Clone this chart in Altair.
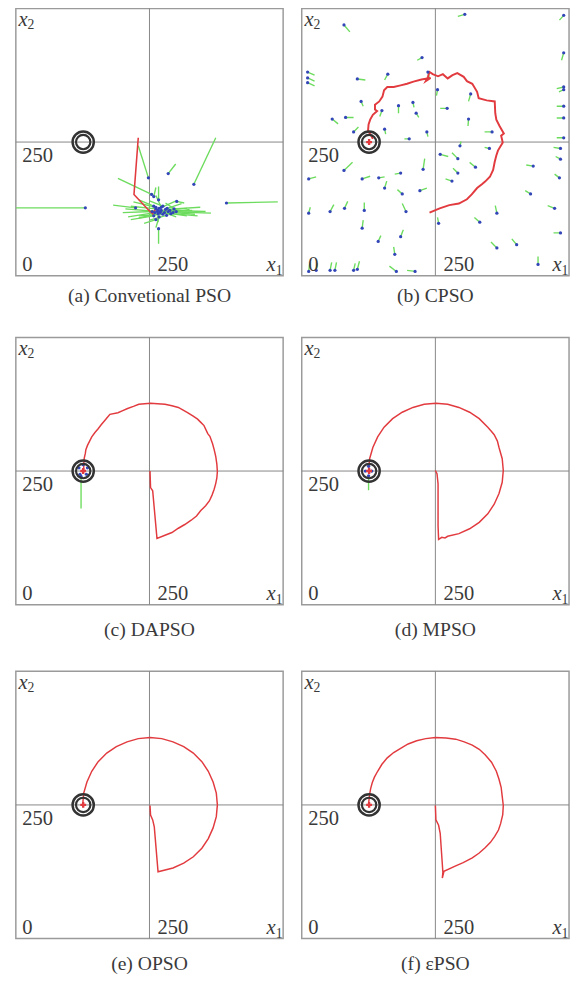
import altair as alt
import pandas as pd

# ---------------- data (units 0..500) ----------------
TARGET_X = [126]
TARGET_Y = [250]

# (a) Conventional PSO
a_path_x = [229, 221, 249, 256, 262, 268, 264]
a_path_y = [258, 152, 122, 116, 126, 119, 124]
a_dot_x = [130, 394, 333, 285, 248, 254, 267, 267, 224, 270, 262, 266, 272, 278, 285, 290, 258, 255, 275, 283,
           300, 296, 268, 262, 301, 258, 265, 270, 280, 262, 275, 288, 260, 268, 282, 294, 258, 272, 266]
a_dot_y = [127, 136, 171, 191, 183, 152, 88, 142, 127, 120, 125, 116, 122, 118, 120, 116, 112, 120, 130, 126,
           120, 125, 110, 105, 139, 148, 120, 118, 124, 128, 115, 122, 118, 126, 113, 118, 130, 128, 122]
a_tail_x = [0, 490, 374, 299, 229, 191, 267, 267, 182, 365, 215, 230, 320, 300, 330, 320, 215, 200, 250, 310,
            325, 280, 262, 240, 315, 262, 205, 340, 345, 220, 230, 355, 210, 300, 250, 335, 230, 262, 266]
a_tail_y = [127, 138, 258, 209, 243, 182, 60, 167, 132, 117, 130, 108, 126, 110, 122, 112, 105, 118, 140, 135,
            124, 136, 90, 98, 136, 165, 125, 112, 128, 138, 112, 120, 110, 140, 104, 115, 142, 150, 100]

# (b) CPSO
b_path_x = [239, 258, 276, 294, 309, 318, 328, 337, 343, 352, 358, 361, 364, 367, 376, 373, 378, 370, 364, 362,
            361, 346, 331, 328, 319, 309, 303, 291, 282, 273, 264, 255, 245, 239, 236, 232, 241, 224, 209, 197,
            185, 172, 160, 154, 151, 145, 137, 137, 141, 133, 128, 125, 124, 130, 133]
b_path_y = [118, 126, 132, 135, 143, 152, 164, 171, 176, 185, 198, 213, 225, 234, 249, 262, 266, 280, 292, 304,
            326, 328, 332, 344, 359, 364, 372, 379, 375, 369, 377, 373, 377, 381, 372, 364, 370, 367, 363, 359,
            356, 353, 353, 347, 335, 326, 320, 311, 308, 301, 292, 283, 271, 262, 256]
b_dot_x = [79, 11, 11, 11, 161, 225, 236, 104, 111, 150, 181, 208, 214, 82, 57, 97, 155, 201, 234,
           305, 490, 490, 490, 490, 490, 490, 490, 316, 272, 312, 356, 254,
           79, 13, 113, 144, 185, 155, 188, 221, 227, 13, 53, 80, 117, 195, 113, 143, 185, 174,
           13, 27, 53, 62, 97, 104, 177, 212,
           296, 259, 292, 351, 484, 325, 292, 433, 482, 484, 281, 428, 473, 365, 333, 256, 484, 365, 402, 442]
b_dot_y = [469, 381, 370, 361, 377, 408, 381, 368, 326, 309, 318, 324, 304, 296, 293, 269, 274, 256, 269,
           489, 487, 417, 353, 348, 317, 295, 258, 340, 313, 293, 269, 348,
           197, 181, 181, 183, 192, 164, 153, 159, 199, 117, 120, 126, 122, 120, 89, 64, 73, 40,
           8, 10, 10, 10, 10, 12, 8, 8,
           243, 227, 219, 238, 238, 203, 192, 205, 183, 218, 177, 153, 126, 117, 100, 98, 80, 52, 58, 21]
b_tail_x = [90, 24, 24, 24, 155, 216, 239, 119, 115, 146, 181, 210, 219, 97, 68, 106, 157, 192, 236,
            292, 482, 486, 477, 481, 477, 477, 477, 312, 259, 311, 342, 252,
            95, 27, 128, 155, 174, 159, 179, 234, 230, 16, 60, 86, 117, 188, 115, 148, 190, 172,
            15, 29, 56, 65, 100, 108, 164, 197,
            298, 274, 281, 342, 471, 314, 283, 420, 473, 475, 269, 418, 460, 362, 323, 254, 471, 354, 393, 442]
b_tail_y = [456, 375, 364, 355, 366, 403, 368, 366, 317, 298, 304, 315, 296, 296, 284, 278, 265, 256, 260,
            485, 478, 403, 350, 344, 317, 295, 258, 326, 313, 280, 269, 337,
            212, 185, 186, 185, 190, 177, 161, 164, 219, 128, 133, 139, 137, 135, 104, 75, 86, 54,
            23, 23, 25, 25, 23, 27, 18, 10,
            251, 223, 230, 240, 240, 212, 201, 207, 190, 223, 181, 159, 131, 131, 109, 109, 80, 63, 69, 36]

# (c) DAPSO
c_path_x = [251, 252, 256, 264, 279, 292, 304, 316, 328, 338, 346, 355, 362, 367, 371, 374, 376, 377, 376, 374,
            371, 368, 363, 359, 352, 346, 340, 331, 322, 313, 304, 292, 279, 265, 252, 241, 230, 220, 209, 200,
            191, 176, 171, 166, 160, 154, 148, 142, 138, 134, 131, 130, 128, 127, 127]
c_path_y = [250, 219, 213, 124, 130, 135, 143, 150, 158, 166, 176, 185, 194, 205, 216, 227, 237, 249, 263, 277,
            290, 301, 315, 320, 335, 341, 347, 353, 359, 364, 369, 372, 375, 376, 377, 376, 375, 371, 367, 363,
            359, 356, 350, 344, 337, 329, 322, 314, 306, 298, 290, 283, 274, 262, 250]
c_dot_x = [126, 118, 134, 120, 132, 122]
c_dot_y = [262, 256, 256, 244, 244, 240]
c_tail_x = [126, 116, 136, 119, 133, 122]
c_tail_y = [265, 257, 257, 242, 242, 180]

# (d) MPSO
d_path_x = [250, 253, 255, 255, 256, 262, 268, 273, 294, 314, 332, 348, 360, 369, 375, 377, 375, 369, 366, 360,
            355, 348, 332, 314, 294, 273, 251, 229, 208, 188, 170, 154, 142, 133, 127, 125]
d_path_y = [251, 245, 226, 147, 122, 126, 125, 128, 133, 142, 154, 170, 188, 208, 229, 251, 273, 294, 306, 318,
            324, 332, 348, 360, 369, 375, 377, 375, 369, 360, 348, 332, 314, 294, 273, 251]
d_dot_x = [125, 119, 131, 125]
d_dot_y = [259, 250, 250, 241]
d_tail_x = [125, 118, 132, 125]
d_tail_y = [261, 250, 250, 214]

# (e) OPSO
e_path_x = [251, 252, 256, 259, 266, 294, 314, 332, 348, 360, 369, 375, 377, 375, 369, 360, 348, 332, 314, 294,
            273, 251, 229, 208, 188, 170, 154, 142, 133, 127, 125]
e_path_y = [249, 231, 222, 209, 125, 132, 141, 153, 169, 187, 207, 228, 250, 272, 293, 313, 331, 347, 359, 368,
            374, 376, 374, 368, 359, 347, 331, 313, 293, 272, 250]

# (f) epsilon PSO
f_path_x = [250, 251, 256, 259, 264, 263, 266, 288, 302, 319, 332, 343, 353, 361, 368, 372, 376, 377, 375, 373,
            369, 364, 355, 343, 332, 319, 304, 288, 270, 250, 232, 215, 199, 185, 172, 160, 150, 142, 136, 132,
            129, 127, 125]
f_path_y = [249, 222, 212, 197, 124, 113, 126, 136, 142, 151, 160, 170, 180, 191, 203, 215, 232, 249, 266, 283,
            298, 313, 330, 344, 354, 362, 368, 373, 375, 376, 374, 370, 364, 356, 348, 338, 326, 313, 302, 292,
            281, 270, 252]

captions = ["(a) Convetional PSO", "(b) CPSO", "(c) DAPSO", "(d) MPSO", "(e) OPSO", "(f) \u03b5PSO"]
tick_labels = ["0", "250"]

# ---------------- styling ----------------
FONT = "Liberation Serif"
SIZE = 273
RED = "#e23b3f"
GREEN = "#6ddc5e"
BLUE = "#3346b8"
RING = "#333333"
TXT = "#3a3a3a"

xs = alt.Scale(domain=[0, 500], nice=False, zero=False)
ys = alt.Scale(domain=[0, 500], nice=False, zero=False)


def X(f):
    return alt.X(f, type="quantitative", scale=xs, axis=None)


def Y(f):
    return alt.Y(f, type="quantitative", scale=ys, axis=None)


lab_df = pd.DataFrame({
    "t": [tick_labels[1], tick_labels[0], tick_labels[1]],
    "x": [12, 12, 265],
    "y": [244, 8, 8],
    "b": ["top", "alphabetic", "alphabetic"],
})
var_df = pd.DataFrame({"t": ["x", "x"], "x": [5, 469], "y": [467, 8]})
sub_df = pd.DataFrame({"t": ["2", "1"], "x": [22, 486], "y": [461, 2]})


def panel(px, py, dx, dy, tx, ty, caption, offset, marker, line_w):
    layers = []
    layers.append(alt.Chart(pd.DataFrame({"v": [250]})).mark_rule(color="#858585", strokeWidth=1).encode(x=X("v")))
    layers.append(alt.Chart(pd.DataFrame({"v": [250]})).mark_rule(color="#858585", strokeWidth=1).encode(y=Y("v")))
    if dx:
        seg = pd.DataFrame({"x": dx, "y": dy, "x2": tx, "y2": ty})
        layers.append(alt.Chart(seg).mark_rule(color=GREEN, strokeWidth=1.4, clip=True).encode(
            x=X("x"), y=Y("y"), x2="x2:Q", y2="y2:Q"))
    path = pd.DataFrame({"x": px, "y": py, "i": list(range(len(px)))})
    layers.append(alt.Chart(path).mark_line(color=RED, strokeWidth=line_w, clip=True).encode(
        x=X("x"), y=Y("y"), order="i:Q"))
    if dx:
        dots = pd.DataFrame({"x": dx, "y": dy})
        layers.append(alt.Chart(dots).mark_circle(color=BLUE, size=11, opacity=1).encode(x=X("x"), y=Y("y")))
    tgt = pd.DataFrame({"x": TARGET_X, "y": TARGET_Y})
    layers.append(alt.Chart(tgt).mark_point(shape="circle", filled=False, size=470, strokeWidth=2.5,
                                            color=RING, opacity=1).encode(x=X("x"), y=Y("y")))
    layers.append(alt.Chart(tgt).mark_point(shape="circle", filled=False, size=215, strokeWidth=2.2,
                                            color=RING, opacity=1).encode(x=X("x"), y=Y("y")))
    if marker:
        layers.append(alt.Chart(tgt).mark_point(shape="cross", filled=True, size=36,
                                                color=RED, opacity=1).encode(x=X("x"), y=Y("y")))
    for b in ["top", "alphabetic"]:
        sub = lab_df[lab_df["b"] == b]
        layers.append(alt.Chart(sub).mark_text(font=FONT, fontSize=21, color=TXT, align="left",
                                               baseline=b).encode(x=X("x"), y=Y("y"), text="t:N"))
    layers.append(alt.Chart(var_df).mark_text(font=FONT, fontSize=21, fontStyle="italic", color=TXT,
                                              align="left", baseline="alphabetic").encode(
        x=X("x"), y=Y("y"), text="t:N"))
    layers.append(alt.Chart(sub_df).mark_text(font=FONT, fontSize=14, color=TXT,
                                              align="left", baseline="alphabetic").encode(
        x=X("x"), y=Y("y"), text="t:N"))
    return alt.layer(*layers).properties(
        width=SIZE, height=SIZE,
        title=alt.TitleParams(caption, orient="bottom", offset=offset, fontSize=20, font=FONT,
                              fontWeight="normal", color=TXT, anchor="middle"))


pa = panel(a_path_x, a_path_y, a_dot_x, a_dot_y, a_tail_x, a_tail_y, captions[0], 9, False, 1.6)
pb = panel(b_path_x, b_path_y, b_dot_x, b_dot_y, b_tail_x, b_tail_y, captions[1], 9, True, 2.0)
pc = panel(c_path_x, c_path_y, c_dot_x, c_dot_y, c_tail_x, c_tail_y, captions[2], 14, True, 1.5)
pd_ = panel(d_path_x, d_path_y, d_dot_x, d_dot_y, d_tail_x, d_tail_y, captions[3], 14, True, 1.5)
pe = panel(e_path_x, e_path_y, [], [], [], [], captions[4], 14, True, 1.5)
pf = panel(f_path_x, f_path_y, [], [], [], [], captions[5], 14, True, 1.5)

row1 = alt.hconcat(pa, pb, spacing=15)
row2 = alt.hconcat(pc, pd_, spacing=15)
row3 = alt.hconcat(pe, pf, spacing=15)

chart = alt.vconcat(row1, row2, row3, spacing=29).properties(
    padding={"left": 6, "top": -12, "right": 0, "bottom": 0}
).configure_view(stroke="#9a9a9a", strokeWidth=1.5)

chart.save("out.html", embed_options={"renderer": "svg", "actions": False})
